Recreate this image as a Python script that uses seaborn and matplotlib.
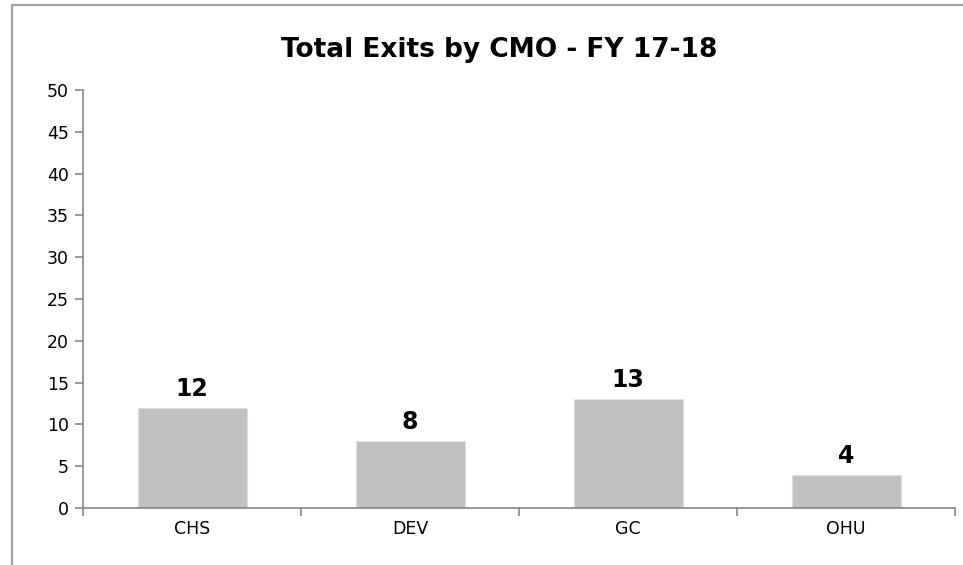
import matplotlib
matplotlib.use("Agg")
import matplotlib.pyplot as plt
import seaborn as sns
import pandas as pd
from matplotlib.patches import Rectangle


# Data
cmos = ["CHS", "DEV", "GC", "OHU"]
exits = [12, 8, 13, 4]
y_ticks = [0, 5, 10, 15, 20, 25, 30, 35, 40, 45, 50]

df = pd.DataFrame({"CMO": cmos, "Exits": exits})


sns.set_theme(style="white")
plt.rcParams["font.family"] = ["DejaVu Sans"]
plt.rcParams["text.color"] = "black"

fig = plt.figure(figsize=(9.63, 5.65), dpi=100)
ax = fig.add_axes([0.0862, 0.1009, 0.9055, 0.7398])

sns.barplot(
    data=df,
    x="CMO",
    y="Exits",
    color="#c0c0c0",
    saturation=1,
    width=0.5,
    ax=ax
)

for patch in ax.patches:
    patch.set_edgecolor("#e0e0e0")
    patch.set_linewidth(0.8)

# value labels
for i, v in enumerate(exits):
    ax.annotate(str(v), (i, v), xytext=(0, 5), textcoords="offset points",
                ha="center", va="bottom", fontsize=17, fontweight="bold",
                color="black")

ax.set_xlim(-0.5, len(cmos) - 0.5)
ax.set_ylim(0, 50)
ax.set_yticks(y_ticks)
ax.set_xlabel("")
ax.set_ylabel("")

# category boundary ticks
ax.set_xticks([i - 0.5 for i in range(len(cmos) + 1)], minor=True)
ax.tick_params(axis="x", which="major", length=0, pad=9, labelsize=12.5,
               labelcolor="black")
ax.tick_params(axis="x", which="minor", length=6, width=1.2, color="#868686",
               bottom=True)
ax.tick_params(axis="y", length=6, width=1.2, color="#868686", left=True,
               labelsize=12.5, labelcolor="black", pad=4)

for side in ["top", "right"]:
    ax.spines[side].set_visible(False)
for side in ["left", "bottom"]:
    ax.spines[side].set_color("#868686")
    ax.spines[side].set_linewidth(1.2)

fig.text(0.518, 0.911, "Total Exits by CMO - FY 17-18", ha="center",
         va="center", fontsize=19, fontweight="bold", color="black")

# outer chart frame
fig.patches.append(Rectangle((0.0125, -0.2), 1.2, 1.191, transform=fig.transFigure,
                             fill=False, edgecolor="#a0a0a0", linewidth=1.5))

plt.savefig("out.png", dpi=100)
plt.close()
